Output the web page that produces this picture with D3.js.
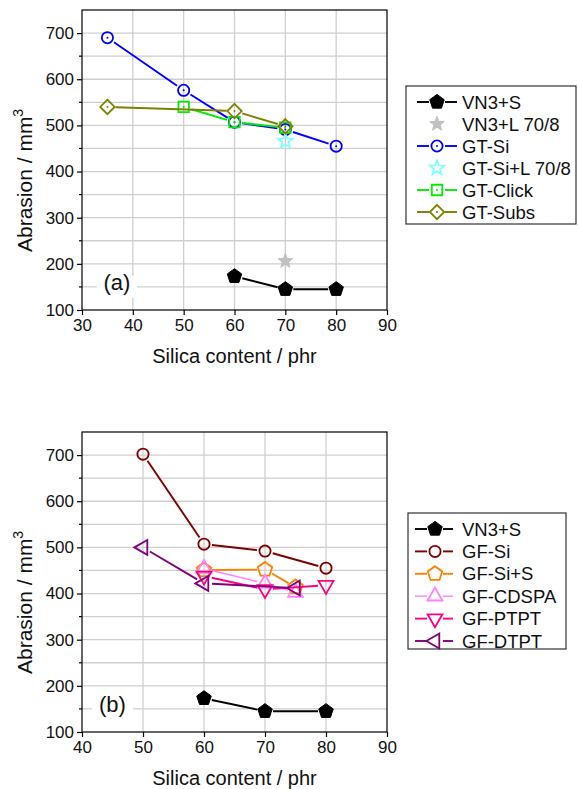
<!DOCTYPE html>
<html>
<head>
<meta charset="utf-8">
<script src="https://cdn.jsdelivr.net/npm/d3@7"></script>
<style>
  body { margin: 0; background: #fff; }
  svg { display: block; font-family: "Liberation Sans", Arial, Helvetica, sans-serif; }
</style>
</head>
<body>
<svg id="fig" width="578" height="789"></svg>
<script>
// ---- Abrasion loss (mm^3) versus silica content (phr) ----

// Panel (a)
const vn3sX = [60, 70, 80];
const vn3sY = [173, 145, 145];
const vn3lX = [70];
const vn3lY = [206];
const gtSiX = [35, 50, 60, 70, 80];
const gtSiY = [690, 576, 507, 491, 455];
const gtSiLX = [70];
const gtSiLY = [466];
const gtClickX = [50, 60, 70];
const gtClickY = [540, 507, 495];
const gtSubsX = [35, 60, 70];
const gtSubsY = [540, 531, 498];

// Panel (b)
const gfSiX = [50, 60, 70, 80];
const gfSiY = [702, 507, 492, 455];
const gfSiSX = [60, 70, 75];
const gfSiSY = [451, 452, 414];
const gfCdspaX = [60, 70, 75];
const gfCdspaY = [454, 422, 402];
const gfPtptX = [60, 70, 80];
const gfPtptY = [438, 409, 418];
const gfDtptX = [50, 60, 75];
const gfDtptY = [500, 422, 412];

// Axis ticks
const yTicks = [100, 200, 300, 400, 500, 600, 700];
const yMinor = [150, 250, 350, 450, 550, 650];
const xTicksA = [30, 40, 50, 60, 70, 80, 90];
const xTicksB = [40, 50, 60, 70, 80, 90];

const zip = (xs, ys) => xs.map((x, i) => [x, ys[i]]);

// Marker outlines (centred on 0,0)
function polygon(n, R, startDeg) {
  const pts = d3.range(n).map(k => {
    const a = (startDeg + k * 360 / n) * Math.PI / 180;
    return [R * Math.cos(a), R * Math.sin(a)];
  });
  return "M" + pts.map(p => p[0].toFixed(2) + "," + p[1].toFixed(2)).join("L") + "Z";
}
function star(R) {
  const pts = d3.range(10).map(k => {
    const r = k % 2 ? R * 0.42 : R;
    const a = (-90 + k * 36) * Math.PI / 180;
    return [r * Math.cos(a), r * Math.sin(a)];
  });
  return "M" + pts.map(p => p[0].toFixed(2) + "," + p[1].toFixed(2)).join("L") + "Z";
}
const shapes = {
  pentagon: () => polygon(5, 7.6, -90),
  circle: () => d3.symbol(d3.symbolCircle, Math.PI * 5.6 * 5.6)(),
  square: () => polygon(4, 7.4, 45),
  diamond: () => polygon(4, 7.2, -90),
  star: () => star(7.6),
  triUp: () => polygon(3, 8.6, -90),
  triDown: () => polygon(3, 8.6, 90),
  triLeft: () => polygon(3, 8.6, 180)
};

const seriesA = [
  { name: "VN3+S", pts: zip(vn3sX, vn3sY), color: "#000000", shape: "pentagon", filled: true, line: true },
  { name: "VN3+L 70/8", pts: zip(vn3lX, vn3lY), color: "#c0c0c0", shape: "star", filled: true, line: false },
  { name: "GT-Si", pts: zip(gtSiX, gtSiY), color: "#0000ff", shape: "circle", dot: true, line: true },
  { name: "GT-Si+L 70/8", pts: zip(gtSiLX, gtSiLY), color: "#80ffff", shape: "star", line: false },
  { name: "GT-Click", pts: zip(gtClickX, gtClickY), color: "#00ee00", shape: "square", dot: true, line: true },
  { name: "GT-Subs", pts: zip(gtSubsX, gtSubsY), color: "#808000", shape: "diamond", dot: true, line: true }
];
const seriesB = [
  { name: "VN3+S", pts: zip(vn3sX, vn3sY), color: "#000000", shape: "pentagon", filled: true, line: true },
  { name: "GF-Si", pts: zip(gfSiX, gfSiY), color: "#800000", shape: "circle", line: true },
  { name: "GF-Si+S", pts: zip(gfSiSX, gfSiSY), color: "#ff8000", shape: "pentagon", line: true },
  { name: "GF-CDSPA", pts: zip(gfCdspaX, gfCdspaY), color: "#ff80ff", shape: "triUp", line: true, thin: true },
  { name: "GF-PTPT", pts: zip(gfPtptX, gfPtptY), color: "#ff0080", shape: "triDown", line: true },
  { name: "GF-DTPT", pts: zip(gfDtptX, gfDtptY), color: "#800080", shape: "triLeft", line: true }
];

const svg = d3.select("#fig");

function drawMarker(g, s, cx, cy) {
  g.append("path")
    .attr("d", shapes[s.shape]())
    .attr("transform", `translate(${cx},${cy})`)
    .attr("fill", s.filled ? s.color : "none")
    .attr("stroke", s.color)
    .attr("stroke-width", s.filled ? 1 : 1.8)
    .attr("stroke-linejoin", "miter");
  if (s.dot) {
    g.append("circle").attr("cx", cx).attr("cy", cy).attr("r", 1).attr("fill", s.color);
  }
}

// line broken around each marker
function drawGappedLine(g, s, pix, gap) {
  for (let i = 0; i < pix.length - 1; i++) {
    const [x1, y1] = pix[i], [x2, y2] = pix[i + 1];
    const dx = x2 - x1, dy = y2 - y1, len = Math.hypot(dx, dy);
    if (len <= 2 * gap) continue;
    const ux = dx / len, uy = dy / len;
    g.append("line")
      .attr("x1", x1 + ux * gap).attr("y1", y1 + uy * gap)
      .attr("x2", x2 - ux * gap).attr("y2", y2 - uy * gap)
      .attr("stroke", s.color)
      .attr("stroke-width", s.thin ? 1.4 : 1.9);
  }
}

function panel(opt) {
  const { top, xDomain, xTicks, series, tag, tagBox, legend } = opt;
  const left = 82, right = 387, bottom = top + 300;
  const x = d3.scaleLinear().domain(xDomain).range([left, right]);
  const y = d3.scaleLinear().domain([100, 750]).range([bottom, top]);
  const g = svg.append("g");

  // grid
  const grid = g.append("g").attr("stroke", "#cfcfcf").attr("stroke-width", 1.3);
  xTicks.slice(1, -1).forEach(v =>
    grid.append("line").attr("x1", x(v)).attr("x2", x(v)).attr("y1", top).attr("y2", bottom));
  yTicks.slice(1).concat(yMinor).forEach(v =>
    grid.append("line").attr("x1", left).attr("x2", right).attr("y1", y(v)).attr("y2", y(v)));

  // panel tag with a white patch behind it
  g.append("rect").attr("x", tagBox[0]).attr("y", y(150) - 11).attr("width", tagBox[1] - tagBox[0])
    .attr("height", 22).attr("fill", "#fff");
  g.append("text").attr("x", (tagBox[0] + tagBox[1]) / 2).attr("y", y(150) + 3)
    .attr("text-anchor", "middle").attr("font-size", 22).attr("fill", "#111").text(tag);

  // frame
  g.append("rect").attr("x", left).attr("y", top).attr("width", right - left).attr("height", bottom - top)
    .attr("fill", "none").attr("stroke", "#000").attr("stroke-width", 1.2);

  // axes
  const ya = g.append("g").attr("transform", `translate(${left},0)`)
    .call(d3.axisLeft(y).tickValues(yTicks).tickSize(5).tickSizeOuter(0).tickPadding(3));
  ya.select(".domain").remove();
  ya.selectAll("text").attr("font-size", 17).attr("font-family", null).attr("fill", "#111");
  ya.selectAll("line").attr("stroke-width", 1.2);
  yMinor.forEach(v => g.append("line").attr("x1", left - 3).attr("x2", left)
    .attr("y1", y(v)).attr("y2", y(v)).attr("stroke", "#000").attr("stroke-width", 1.2));

  const xa = g.append("g").attr("transform", `translate(0,${bottom})`)
    .call(d3.axisBottom(x).tickValues(xTicks).tickSize(5).tickSizeOuter(0).tickPadding(4));
  xa.select(".domain").remove();
  xa.selectAll("text").attr("font-size", 17).attr("font-family", null).attr("fill", "#111");
  xa.selectAll("line").attr("stroke-width", 1.2);

  // axis titles
  g.append("text").attr("x", (left + right) / 2).attr("y", bottom + 53)
    .attr("text-anchor", "middle").attr("font-size", 20).attr("fill", "#111")
    .text("Silica content / phr");
  const yt = g.append("text").attr("transform", `translate(32,${bottom - 58}) rotate(-90)`)
    .attr("text-anchor", "start").attr("font-size", 21).attr("fill", "#111");
  yt.append("tspan").text("Abrasion / mm");
  yt.append("tspan").attr("font-size", 14).attr("dy", -9).text("3");

  // series
  series.forEach(s => {
    const sg = g.append("g");
    const pix = s.pts.map(p => [x(p[0]), y(p[1])]);
    if (s.line) drawGappedLine(sg, s, pix, 8);
    pix.forEach(p => drawMarker(sg, s, p[0], p[1]));
  });

  // legend
  const L = legend;
  const lg = svg.append("g");
  lg.append("rect").attr("x", L.x0).attr("y", L.y0).attr("width", L.x1 - L.x0).attr("height", L.y1 - L.y0)
    .attr("fill", "#fff").attr("stroke", "#333").attr("stroke-width", 1.2);
  series.forEach((s, i) => {
    const cy = L.first + i * L.step;
    if (s.line) {
      lg.append("line").attr("x1", L.lx0).attr("x2", L.mx - 8).attr("y1", cy).attr("y2", cy)
        .attr("stroke", s.color).attr("stroke-width", s.thin ? 1.4 : 1.9);
      lg.append("line").attr("x1", L.mx + 8).attr("x2", L.lx1).attr("y1", cy).attr("y2", cy)
        .attr("stroke", s.color).attr("stroke-width", s.thin ? 1.4 : 1.9);
    }
    drawMarker(lg, s, L.mx, cy);
    lg.append("text").attr("x", L.tx).attr("y", cy + 6.5).attr("font-size", 18.5).attr("fill", "#111")
      .text(s.name);
  });
}

panel({
  top: 10, xDomain: [30, 90], xTicks: xTicksA, series: seriesA, tag: "(a)", tagBox: [97, 137],
  legend: { x0: 406, x1: 576, y0: 86, y1: 224, first: 102, step: 22, lx0: 417, lx1: 457, mx: 437, tx: 462 }
});
panel({
  top: 432, xDomain: [40, 90], xTicks: xTicksB, series: seriesB, tag: "(b)", tagBox: [92, 133],
  legend: { x0: 408, x1: 566, y0: 513, y1: 649, first: 529, step: 22.4, lx0: 415, lx1: 453, mx: 435, tx: 462 }
});
</script>
</body>
</html>
